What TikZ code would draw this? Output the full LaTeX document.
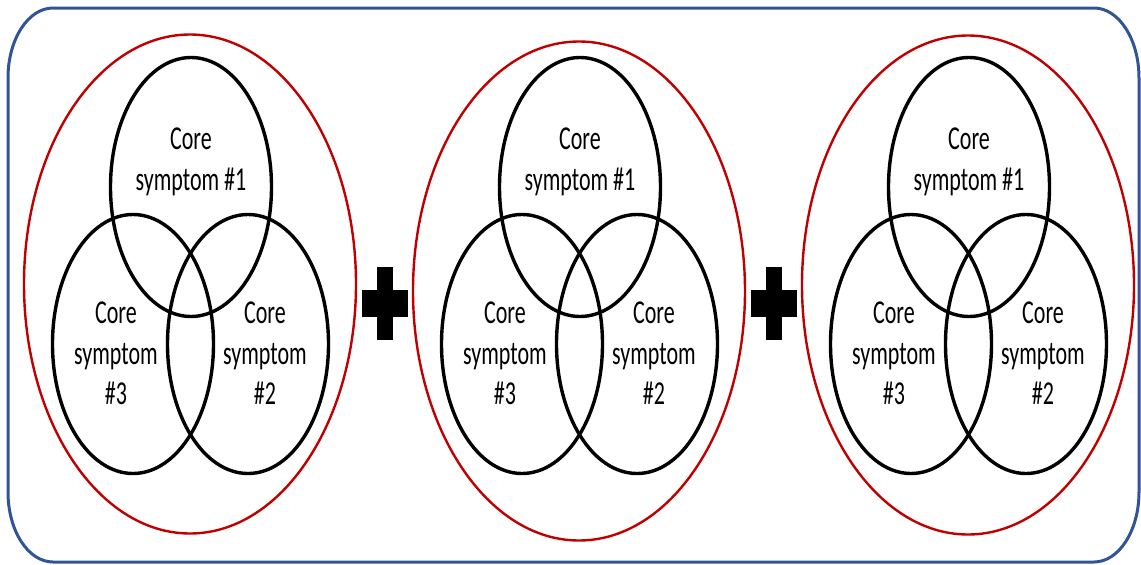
\documentclass[tikz,border=0pt]{standalone}
\usepackage{fontspec}
\setmainfont{Carlito}
\usetikzlibrary{shapes.geometric}
\definecolor{frameblue}{RGB}{47,85,151}
\definecolor{ringred}{RGB}{192,0,0}
\newcommand{\lbl}[1]{\scalebox{1}[1.52]{\fontsize{22}{26.4}\selectfont\begin{tabular}{@{}c@{}}#1\end{tabular}}}
\tikzset{
  venn/.style={draw=black, ellipse, line width=3.4pt, minimum width=161pt, minimum height=259pt, inner sep=0pt},
  ring/.style={draw=ringred, ellipse, line width=2.4pt, minimum width=332pt, minimum height=499pt, inner sep=0pt},
  txt/.style={inner sep=0pt, align=center},
}
\begin{document}
\begin{tikzpicture}[x=1pt,y=-1pt]
\useasboundingbox (0,0) rectangle (1141,565);
% frame (y axis points down: angle 90 is at the bottom)
\draw[frameblue, line width=3pt]
  (53,8) -- (1094,8) arc[start angle=-90, end angle=0, x radius=45, y radius=70]
  -- (1139,492) arc[start angle=0, end angle=90, x radius=45, y radius=70]
  -- (53,562) arc[start angle=90, end angle=180, x radius=45, y radius=70]
  -- (8,78) arc[start angle=180, end angle=270, x radius=45, y radius=70] -- cycle;
% sets
\foreach \i/\cx/\ry in {1/190/284, 2/579/291, 3/968/285}{
  \node[ring] (r\i) at (\cx,\ry) {};
  \node[venn] (t\i) at (\cx+1,187) {};
  \node[venn] (l\i) at (\cx-57,344) {};
  \node[venn] (g\i) at (\cx+58,344) {};
  \node[txt] (tt\i) at (\cx+1,162) {\lbl{Core\\symptom \#1}};
  \node[txt] (lt\i) at (\cx-74,356) {\lbl{Core\\symptom\\\#3}};
  \node[txt] (gt\i) at (\cx+75,356) {\lbl{Core\\symptom\\\#2}};
}
% plus signs
\foreach \px in {385,774}{
  \fill[black] (\px-23,290) rectangle (\px+23,317);
  \fill[black] (\px-8,267) rectangle (\px+8,340);
}
\end{tikzpicture}
\end{document}
